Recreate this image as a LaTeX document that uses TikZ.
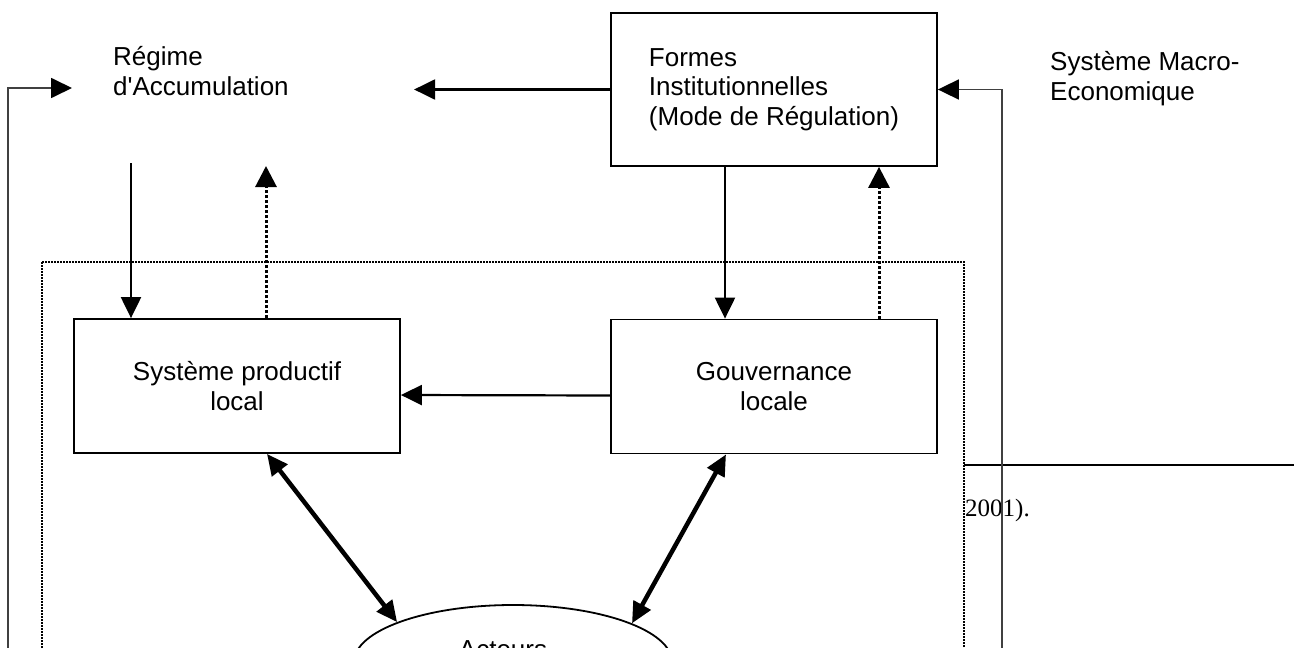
\documentclass[tikz,border=0pt]{standalone}
\usepackage{fontspec}
\setmainfont{Liberation Sans}[Ligatures=TeXOff]
\newfontfamily\timesfont{Liberation Serif}
\usetikzlibrary{arrows.meta,shapes.geometric}

\tikzset{
	boite/.style={draw, line width=1.8pt, minimum width=326pt, minimum height=134pt, align=center, inner sep=0pt},
	fleche/.style={line width=2.2pt, -{Triangle[length=21pt,width=20pt]}},
	pointille/.style={line width=3pt, dash pattern=on 3pt off 2pt, -{Triangle[length=21pt,width=21pt]}},
	doublefleche/.style={line width=4.5pt, {Triangle[length=21pt,width=19pt]}-{Triangle[length=21pt,width=19pt]}},
	retour/.style={line width=1.8pt, color=black!75, -{Triangle[length=21pt,width=20pt,color=black]}},
	cadre/.style={line width=1.2pt, dash pattern=on 2pt off 1pt},
	texte/.style={anchor=base west, align=left, inner sep=0pt}
}

\begin{document}
\begin{tikzpicture}[x=1pt, y=-1pt, every node/.style={font=\fontsize{26}{29.5}\selectfont}]
	%%%%% START %%%%%
	\useasboundingbox (0,0) rectangle (1294,648);
	\clip (0,0) rectangle (1294,648);
	
	\node[texte] (regime) at (113,95) {Régime\\d'Accumulation};
	\node[boite, minimum height=153pt, align=left] (formes) at (774,89.5) {Formes\\Institutionnelles\\(Mode de Régulation)};
	\node[texte] (macro) at (1050,100) {Système Macro-\\Economique};
	
	\node[boite] (sysprod) at (237,386) {Système productif\\local};
	\node[boite] (gouv) at (774,386.5) {Gouvernance\\locale};
	
	\node[draw, ellipse, line width=1.8pt, minimum width=318pt, minimum height=114pt, inner sep=0pt] (acteurs) at (513,662) {};
	\node[anchor=base, inner sep=0pt] (acteurstxt) at (503,658) {Acteurs};
	
	\node[font=\timesfont\fontsize{25}{29}\selectfont, anchor=base west, inner sep=0pt] (annee) at (965,516) {2001).};
	
	% cadre local
	\draw[cadre] (42,262) rectangle (964,700);
	\draw[line width=2.2pt] (964,465) -- (1294,465);
	
	% retours macro
	\coordinate (gbas) at (8,660);
	\coordinate (regtip) at (72,88);
	\draw[retour] (gbas) |- (regtip);
	\coordinate (dbas) at (1002,660);
	\draw[retour] (dbas) |- (formes.east);
	
	\draw[fleche] (formes.west) -- ++(-196,0);
	
	\coordinate (regout) at (131,163);
	\coordinate (regin) at (266,166);
	\draw[fleche] (regout) -- (regout |- sysprod.north);
	\draw[pointille] (regin |- sysprod.north) -- (regin);
	
	\draw[fleche] ([xshift=-49pt]formes.south) -- ([xshift=-49pt]gouv.north);
	\draw[pointille] ([xshift=105pt]gouv.north) -- ([xshift=105pt]formes.south);
	
	\draw[fleche] ([yshift=-9pt]gouv.west) -- ([yshift=-9pt]sysprod.east);
	
	\draw[doublefleche] ([xshift=30pt]sysprod.south) -- (acteurs.161);
	\draw[doublefleche] ([xshift=-48pt]gouv.south) -- (acteurs.18);
	%%%%% END %%%%%
\end{tikzpicture}
\end{document}
